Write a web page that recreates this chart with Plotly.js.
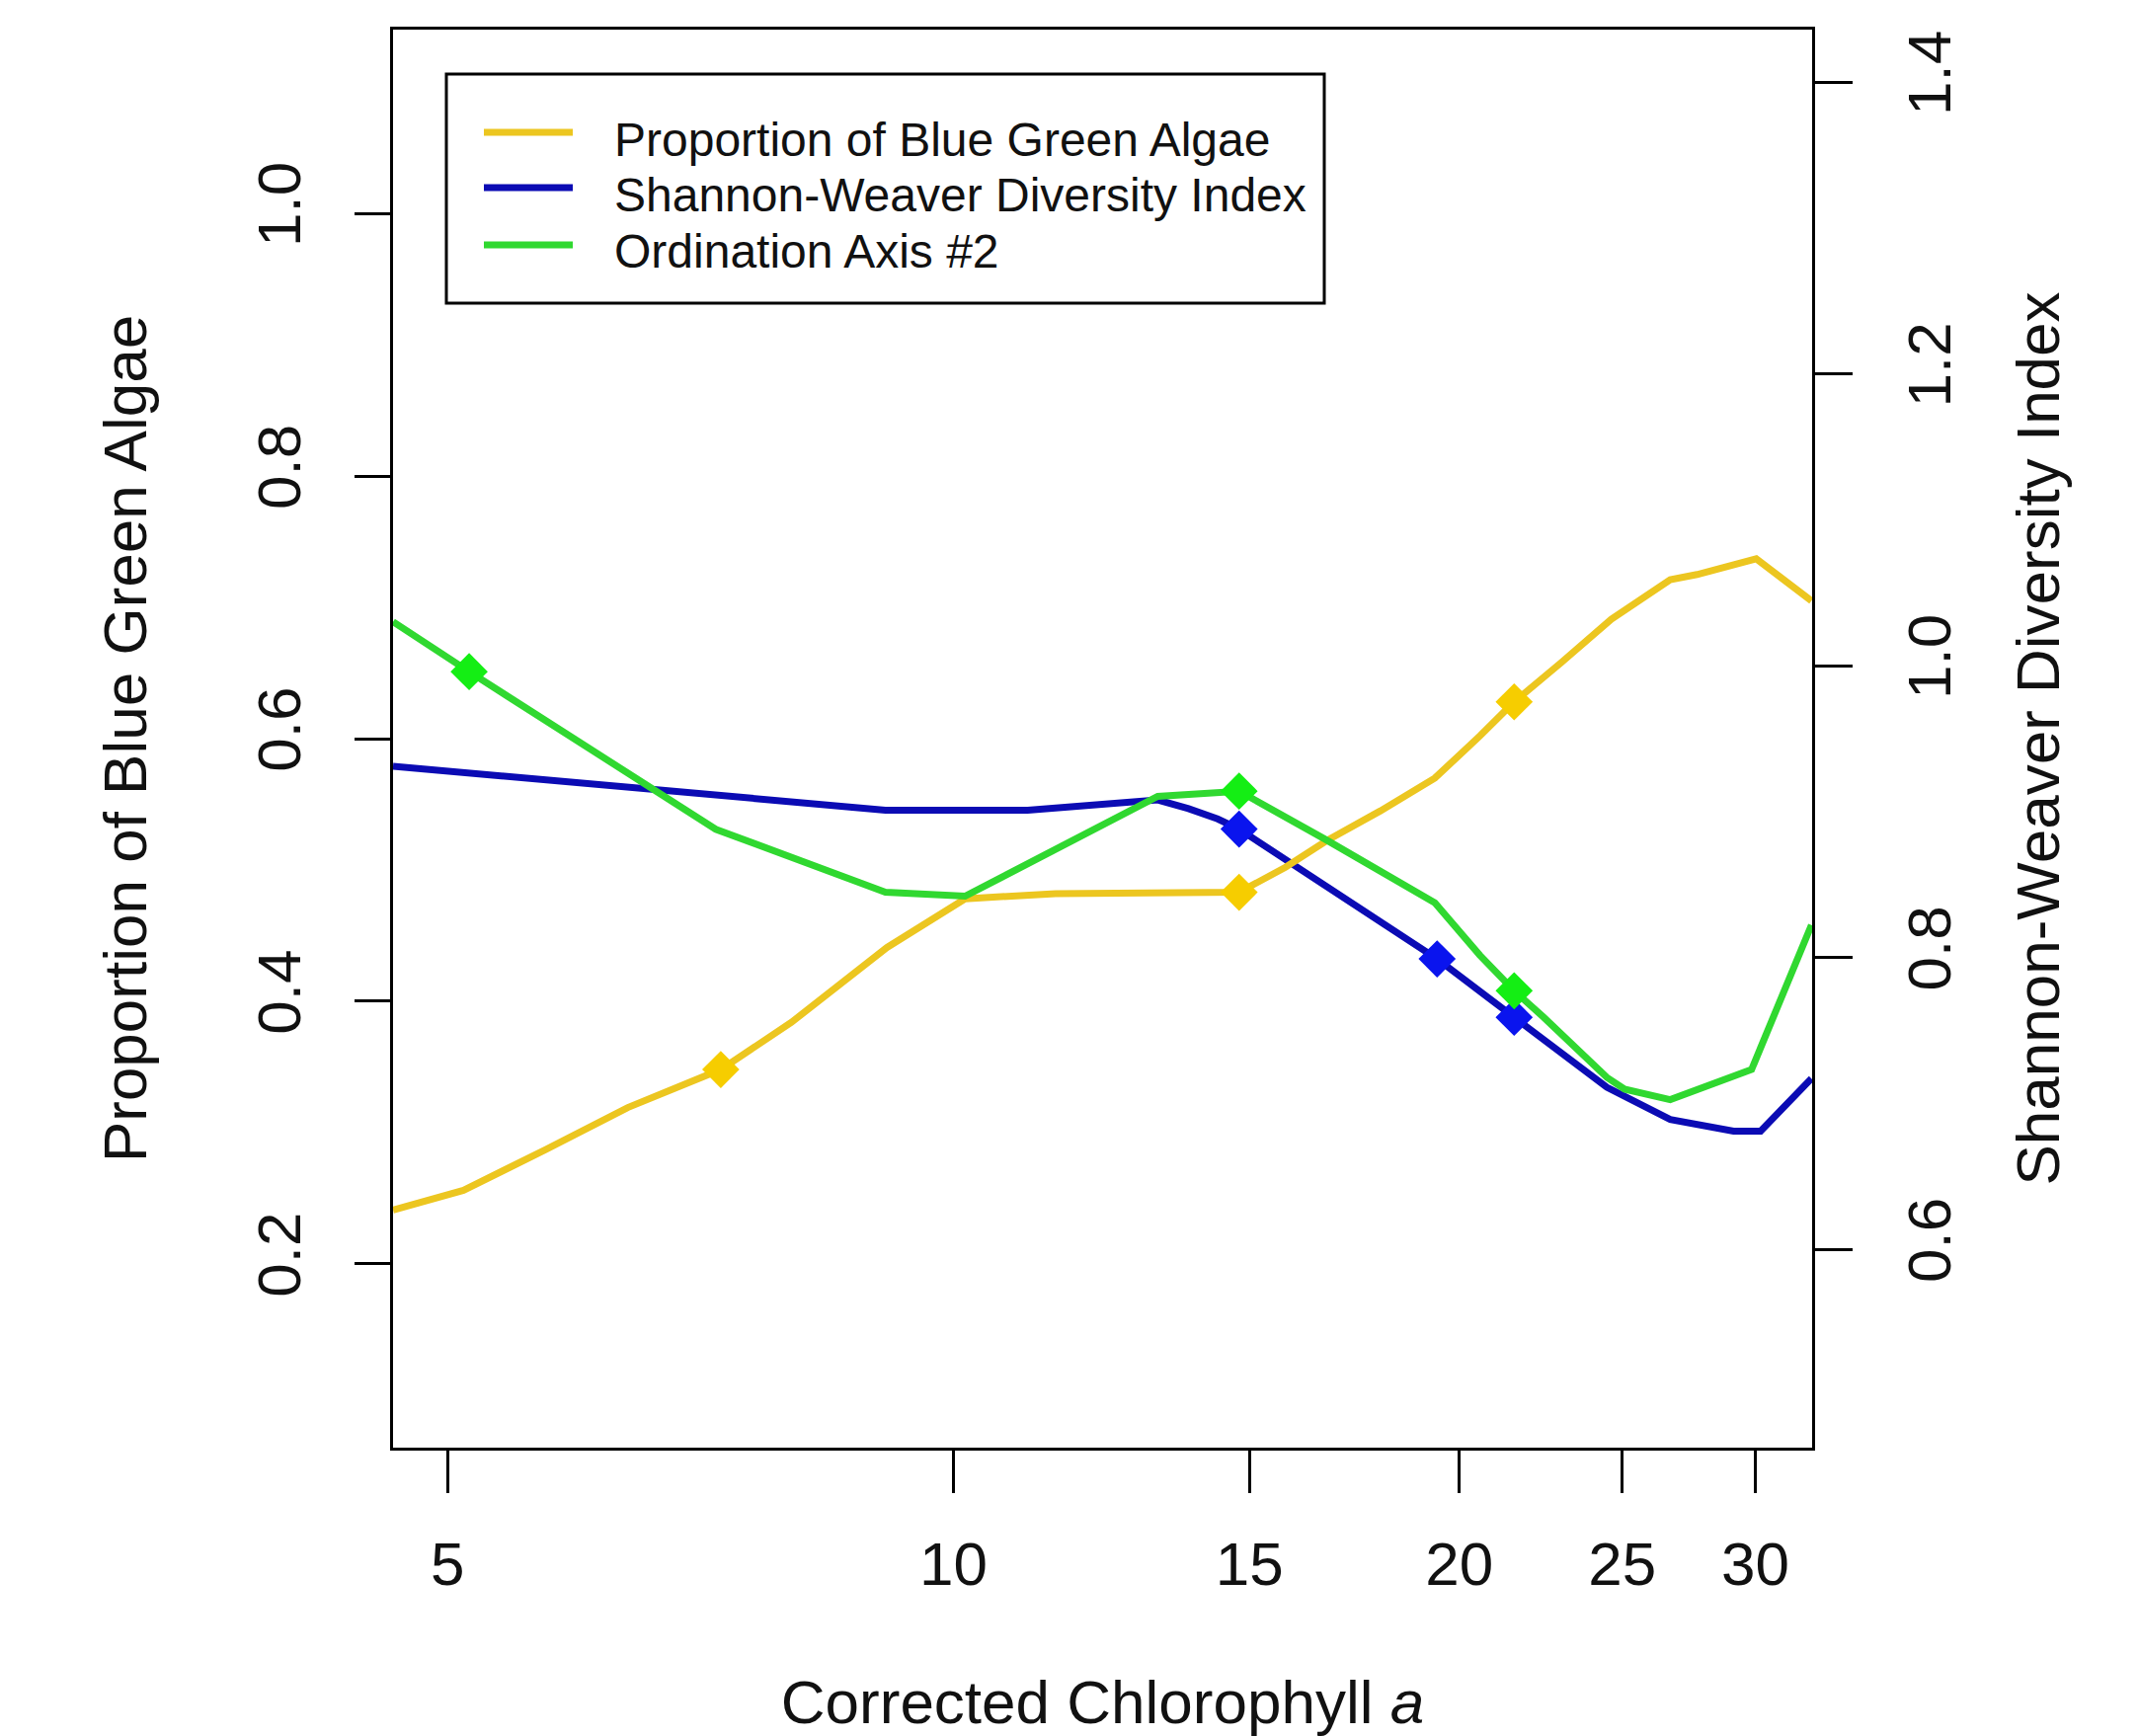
<!DOCTYPE html>
<html>
<head>
<meta charset="utf-8">
<script src="https://cdn.plot.ly/plotly-3.0.1.min.js"></script>
<style>
html,body{margin:0;padding:0;background:#ffffff;}
#chart{width:2165px;height:1758px;}
</style>
</head>
<body>
<div id="chart"></div>
<script>
// ---- data ----
const algaeX = [4.64, 5.11, 5.72, 6.40, 7.27, 8.01, 9.13, 10.16, 11.5, 12.84, 14.79, 15.76, 16.66, 17.95, 19.34, 20.57, 21.56, 23.0, 24.63, 26.7, 27.7, 30.04, 32.4];
const algaeY = [0.241, 0.256, 0.287, 0.319, 0.348, 0.384, 0.441, 0.478, 0.482, 0.483, 0.483, 0.502, 0.522, 0.545, 0.570, 0.602, 0.628, 0.658, 0.691, 0.721, 0.725, 0.737, 0.705];

const diversityX = [4.64, 5.72, 7.22, 9.11, 11.07, 12.43, 13.23, 13.8, 14.36, 14.79, 15.76, 17.73, 19.4, 21.56, 24.48, 26.7, 29.12, 30.22, 32.4];
const diversityY = [0.931, 0.922, 0.912, 0.901, 0.901, 0.906, 0.908, 0.902, 0.895, 0.888, 0.867, 0.828, 0.799, 0.759, 0.711, 0.689, 0.681, 0.681, 0.717];

const ordinationX = [4.64, 5.15, 7.22, 9.11, 10.16, 13.23, 14.79, 16.66, 19.34, 20.57, 21.56, 22.44, 24.48, 25.08, 26.7, 29.85, 32.4];
const ordinationY = [0.689, 0.651, 0.531, 0.483, 0.480, 0.556, 0.560, 0.523, 0.475, 0.435, 0.408, 0.388, 0.342, 0.333, 0.325, 0.348, 0.458];

const algaeMarkX = [7.27, 14.79, 21.56];
const algaeMarkY = [0.348, 0.483, 0.628];
const diversityMarkX = [14.79, 19.4, 21.56];
const diversityMarkY = [0.888, 0.799, 0.759];
const ordinationMarkX = [5.15, 14.79, 21.56];
const ordinationMarkY = [0.651, 0.560, 0.408];

const xTickVals = [5, 10, 15, 20, 25, 30];
const xTickText = ['5', '10', '15', '20', '25', '30'];
const leftTickVals = [0.2, 0.4, 0.6, 0.8, 1.0];
const leftTickText = ['0.2', '0.4', '0.6', '0.8', '1.0'];
const rightTickVals = [0.6, 0.8, 1.0, 1.2, 1.4];
const rightTickText = ['0.6', '0.8', '1.0', '1.2', '1.4'];

const seriesNames = ['Proportion of Blue Green Algae', 'Shannon-Weaver Diversity Index', 'Ordination Axis #2'];

// ---- styles ----
const FONT = 'Liberation Sans, Arial, Helvetica, sans-serif';
const cYellow = '#ECC620', cYellowM = '#F6CD00';
const cBlue = '#0B0BB4', cBlueM = '#0A14EE';
const cGreen = '#30D830', cGreenM = '#14EE14';

const W = 2165, H = 1758;
const M = {l: 398, r: 330, t: 30, b: 292};
const plotW = W - M.l - M.r, plotH = H - M.t - M.b;
const px = v => (v - M.l) / plotW;
const py = v => (H - M.b - v) / plotH;

const LW = 7, MS = 29;
const traces = [
  {x: diversityX, y: diversityY, yaxis: 'y', mode: 'lines', name: seriesNames[1],
   line: {color: cBlue, width: LW}, showlegend: false, hoverinfo: 'skip'},
  {x: diversityMarkX, y: diversityMarkY, yaxis: 'y', mode: 'markers', name: seriesNames[1],
   marker: {symbol: 'diamond', size: MS, color: cBlueM}, showlegend: false, hoverinfo: 'skip'},
  {x: algaeX, y: algaeY, yaxis: 'y2', mode: 'lines', name: seriesNames[0],
   line: {color: cYellow, width: LW}, showlegend: false, hoverinfo: 'skip'},
  {x: ordinationX, y: ordinationY, yaxis: 'y2', mode: 'lines', name: seriesNames[2],
   line: {color: cGreen, width: LW}, showlegend: false, hoverinfo: 'skip'},
  {x: algaeMarkX, y: algaeMarkY, yaxis: 'y2', mode: 'markers', name: seriesNames[0],
   marker: {symbol: 'diamond', size: MS, color: cYellowM}, showlegend: false, hoverinfo: 'skip'},
  {x: ordinationMarkX, y: ordinationMarkY, yaxis: 'y2', mode: 'markers', name: seriesNames[2],
   marker: {symbol: 'diamond', size: MS, color: cGreenM}, showlegend: false, hoverinfo: 'skip'}
];

// legend drawn as a framed key (pixel layout converted to paper)
const legBox = {x0: 452, x1: 1341, y0: 75, y1: 307};
const legRowsY = [134, 190, 248];
const legColors = [cYellow, cBlue, cGreen];
const shapes = [
  {type: 'rect', xref: 'paper', yref: 'paper', x0: px(legBox.x0), x1: px(legBox.x1), y0: py(legBox.y1), y1: py(legBox.y0),
   line: {color: '#000', width: 3}, fillcolor: 'rgba(255,255,255,0)'}
];
const annotations = [];
seriesNames.forEach((nm, i) => {
  shapes.push({type: 'line', xref: 'paper', yref: 'paper', x0: px(490), x1: px(580), y0: py(legRowsY[i]), y1: py(legRowsY[i]),
               line: {color: legColors[i], width: LW}});
  annotations.push({xref: 'paper', yref: 'paper', x: px(620), y: py(legRowsY[i] + 7), xanchor: 'left', yanchor: 'middle',
                    text: nm, showarrow: false, font: {family: FONT, size: 48, color: '#111'}});
});

const axisCommon = {
  ticks: 'outside', tickwidth: 3, tickcolor: '#000', showline: true, linewidth: 3, linecolor: '#000',
  showgrid: false, zeroline: false, automargin: false,
  tickfont: {family: FONT, size: 62, color: '#111'}
};

const layout = {
  width: W, height: H,
  margin: M,
  paper_bgcolor: '#fff', plot_bgcolor: '#fff',
  font: {family: FONT, color: '#111'},
  showlegend: false,
  xaxis: Object.assign({}, axisCommon, {
    type: 'log', range: [Math.log10(4.64), Math.log10(32.43)],
    tickmode: 'array', tickvals: xTickVals, ticktext: xTickText,
    ticklen: 43, mirror: true, ticklabelstandoff: 19,
    title: {text: 'Corrected Chlorophyll <i>a</i>', font: {family: FONT, size: 62, color: '#111'}, standoff: 88}
  }),
  yaxis: Object.assign({}, axisCommon, {
    side: 'right', range: [0.464, 1.436],
    tickmode: 'array', tickvals: rightTickVals, ticktext: rightTickText,
    ticklen: 38, tickangle: -90, ticklabelstandoff: 25,
    title: {text: 'Shannon-Weaver Diversity Index', font: {family: FONT, size: 62, color: '#111'}, standoff: 55}
  }),
  yaxis2: Object.assign({}, axisCommon, {
    side: 'left', overlaying: 'y', range: [0.06, 1.14],
    tickmode: 'array', tickvals: leftTickVals, ticktext: leftTickText,
    ticklen: 36, tickangle: -90, ticklabelstandoff: 30,
    title: {text: 'Proportion of Blue Green Algae', font: {family: FONT, size: 62, color: '#111'}, standoff: 80}
  }),
  shapes: shapes,
  annotations: annotations
};

Plotly.newPlot('chart', traces, layout, {staticPlot: true, displayModeBar: false});
</script>
</body>
</html>
